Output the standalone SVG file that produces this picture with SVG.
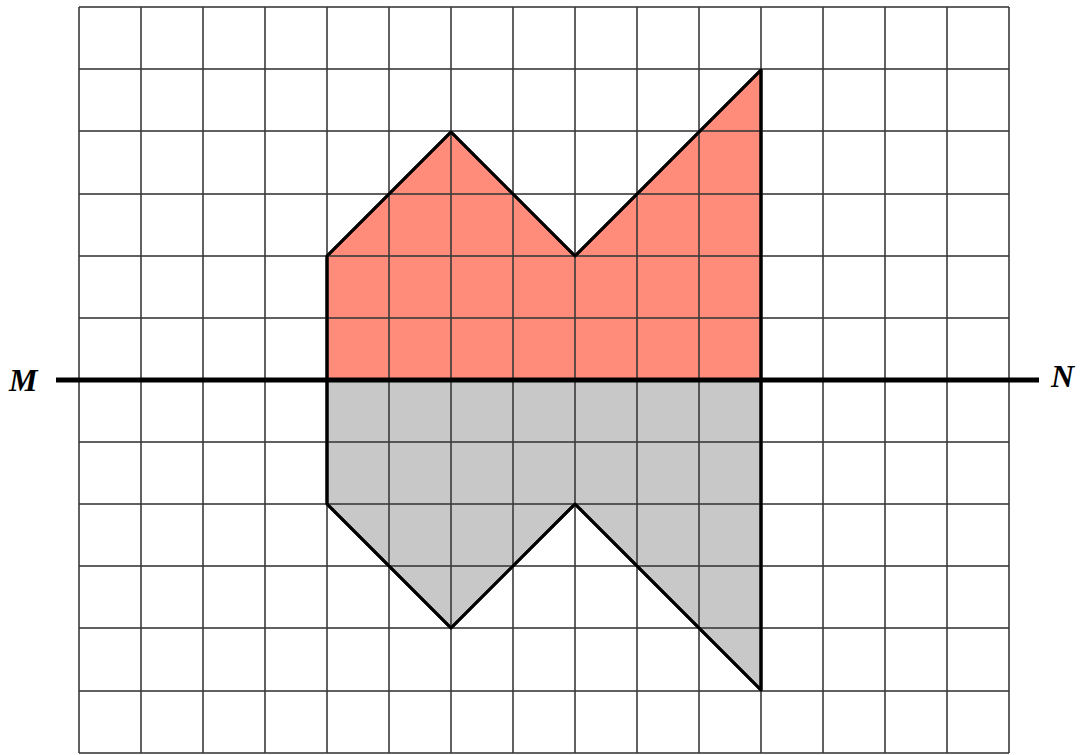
<svg xmlns="http://www.w3.org/2000/svg" width="1081" height="755" viewBox="0 0 1081 755">
<style>
.grid line{stroke:#3a3a3a;stroke-width:2;stroke-opacity:0.8}
.shape{stroke:#000;stroke-width:3;stroke-linejoin:round}
.lbl{font-family:"Liberation Serif",serif;font-weight:bold;font-style:italic;font-size:32px;fill:#000}
</style>
<rect width="1081" height="755" fill="#fff"/>
<g id="red-shape"><polygon class="shape" fill="#FF8C7A" points="327,256 451,132 575,256 761,70 761,380 327,380"/></g>
<g id="gray-shape"><polygon class="shape" fill="#C8C8C8" points="327,380 761,380 761,690 575,504 451,628 327,504"/></g>
<g class="grid" id="grid">
<line x1="79" y1="7" x2="79" y2="753"/><line x1="141" y1="7" x2="141" y2="753"/><line x1="203" y1="7" x2="203" y2="753"/><line x1="265" y1="7" x2="265" y2="753"/><line x1="327" y1="7" x2="327" y2="753"/><line x1="389" y1="7" x2="389" y2="753"/><line x1="451" y1="7" x2="451" y2="753"/><line x1="513" y1="7" x2="513" y2="753"/><line x1="575" y1="7" x2="575" y2="753"/><line x1="637" y1="7" x2="637" y2="753"/><line x1="699" y1="7" x2="699" y2="753"/><line x1="761" y1="7" x2="761" y2="753"/><line x1="823" y1="7" x2="823" y2="753"/><line x1="885" y1="7" x2="885" y2="753"/><line x1="947" y1="7" x2="947" y2="753"/><line x1="1009" y1="7" x2="1009" y2="753"/>
<line x1="79" y1="7" x2="1009" y2="7"/><line x1="79" y1="69" x2="1009" y2="69"/><line x1="79" y1="131" x2="1009" y2="131"/><line x1="79" y1="194" x2="1009" y2="194"/><line x1="79" y1="256" x2="1009" y2="256"/><line x1="79" y1="318" x2="1009" y2="318"/><line x1="79" y1="380" x2="1009" y2="380"/><line x1="79" y1="442" x2="1009" y2="442"/><line x1="79" y1="504" x2="1009" y2="504"/><line x1="79" y1="566" x2="1009" y2="566"/><line x1="79" y1="628" x2="1009" y2="628"/><line x1="79" y1="691" x2="1009" y2="691"/><line x1="79" y1="753" x2="1009" y2="753"/>
</g>
<g id="outlines" fill="none" class="shape">
<polyline points="327,380 327,256 451,132 575,256 761,70 761,380"/>
<polyline points="761,380 761,690 575,504 451,628 327,504 327,380"/>
</g>
<g id="connectors"><line id="MN" x1="56" y1="380" x2="1039" y2="380" stroke="#000" stroke-width="5"/></g>
<g id="label-M"><text class="lbl" x="9" y="391">M</text></g>
<g id="label-N"><text class="lbl" x="1051" y="387">N</text></g>
</svg>
